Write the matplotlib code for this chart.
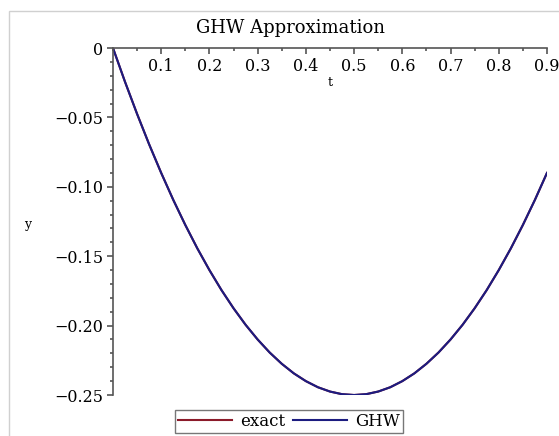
import matplotlib
matplotlib.use('Agg')
import matplotlib.pyplot as plt
from matplotlib.patches import Rectangle
from matplotlib.ticker import MultipleLocator

plt.rcParams['font.family'] = ['DejaVu Serif', 'Liberation Serif']

# values
t = [0.0, 0.025, 0.05, 0.075, 0.1, 0.125, 0.15, 0.175, 0.2, 0.225, 0.25,
     0.275, 0.3, 0.325, 0.35, 0.375, 0.4, 0.425, 0.45, 0.475, 0.5,
     0.525, 0.55, 0.575, 0.6, 0.625, 0.65, 0.675, 0.7, 0.725, 0.75,
     0.775, 0.8, 0.825, 0.85, 0.875, 0.9]
y_exact = [0.0, -0.0244, -0.0475, -0.0694, -0.09, -0.1094, -0.1275, -0.1444,
           -0.16, -0.1744, -0.1875, -0.1994, -0.21, -0.2194, -0.2275, -0.2344,
           -0.24, -0.2444, -0.2475, -0.2494, -0.25, -0.2494, -0.2475, -0.2444,
           -0.24, -0.2344, -0.2275, -0.2194, -0.21, -0.1994, -0.1875, -0.1744,
           -0.16, -0.1444, -0.1275, -0.1094, -0.09]
y_ghw = [0.0, -0.0244, -0.0475, -0.0694, -0.09, -0.1094, -0.1275, -0.1444,
         -0.16, -0.1744, -0.1875, -0.1994, -0.21, -0.2194, -0.2275, -0.2344,
         -0.24, -0.2444, -0.2475, -0.2494, -0.25, -0.2494, -0.2475, -0.2444,
         -0.24, -0.2344, -0.2275, -0.2194, -0.21, -0.1994, -0.1875, -0.1744,
         -0.16, -0.1444, -0.1275, -0.1094, -0.09]
x_ticks = [0.1, 0.2, 0.3, 0.4, 0.5, 0.6, 0.7, 0.8, 0.9]
y_ticks = [0, -0.05, -0.10, -0.15, -0.20, -0.25]
y_tick_labels = ['0', '\u22120.05', '\u22120.10', '\u22120.15', '\u22120.20', '\u22120.25']

fig = plt.figure(figsize=(5.59, 4.36), dpi=100)
ax = fig.add_axes([0.2021, 0.094, 0.7764, 0.7959])

ax.plot(t, y_exact, color='#8b1a2a', lw=1.5, label='exact')
ax.plot(t, y_ghw, color='#1c1c80', lw=1.5, label='GHW')

ax.set_xlim(0, 0.9)
ax.set_ylim(-0.25, 0)

for s in ['right', 'top']:
    ax.spines[s].set_visible(False)
ax.spines['bottom'].set_position(('data', 0))
ax.spines['left'].set_position(('data', 0))
for s in ['bottom', 'left']:
    ax.spines[s].set_color('#555555')
    ax.spines[s].set_linewidth(1.2)

ax.set_xticks(x_ticks)
ax.set_xticklabels(['%.1f' % v for v in x_ticks])
ax.set_yticks(y_ticks)
ax.set_yticklabels(y_tick_labels)
ax.xaxis.set_minor_locator(MultipleLocator(0.05))
ax.yaxis.set_minor_locator(MultipleLocator(0.01))
ax.tick_params(which='major', direction='out', length=4, width=1.2,
               color='#555555', labelsize=11.5, pad=3)
ax.tick_params(which='minor', direction='out', length=2.5, width=1.2,
               color='#555555')

fig.text(0.519, 0.936, 'GHW Approximation', fontsize=13, ha='center', va='center')
fig.text(0.5903, 0.81, 't', fontsize=9, ha='center', va='center')
fig.text(0.050, 0.484, 'y', fontsize=9, ha='center', va='center')

fig.legend(loc='center', bbox_to_anchor=(0.517, 0.033), ncol=2,
           fancybox=False, edgecolor='#777777', framealpha=1,
           fontsize=12, handlelength=3.2, columnspacing=0.5,
           borderpad=0.2, handletextpad=0.5)

fig.patches.append(Rectangle((9 / 559, -0.1), 1.2, 1.1 - 11 / 436,
                             transform=fig.transFigure, fill=False,
                             edgecolor='#d0d0d0', lw=1, clip_on=False))

fig.savefig('out.png', dpi=100)
